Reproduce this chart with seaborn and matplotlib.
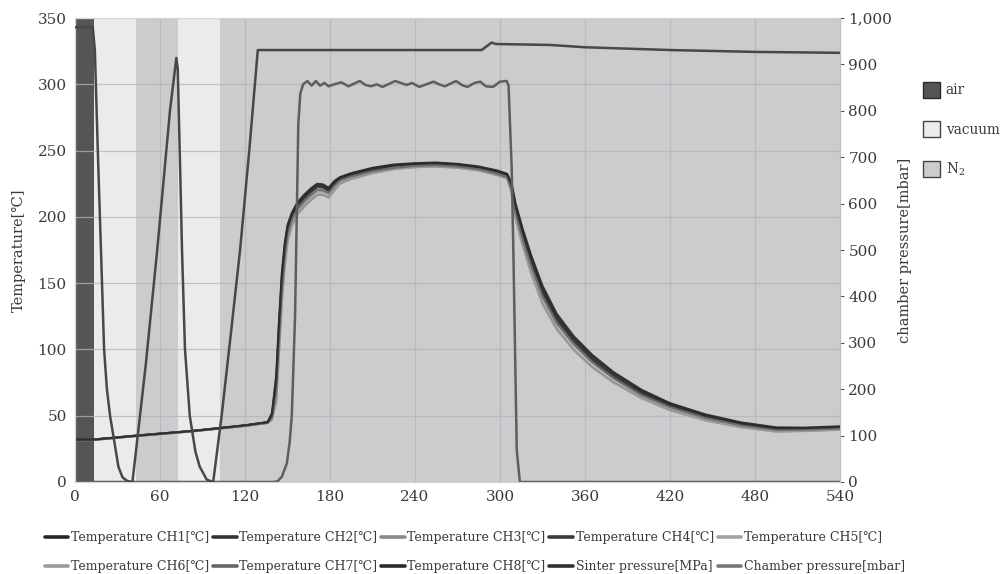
import numpy as np
import pandas as pd
import matplotlib
matplotlib.use("Agg")
import matplotlib.pyplot as plt
from matplotlib.patches import Patch
from matplotlib.lines import Line2D
from matplotlib.ticker import FuncFormatter
import seaborn as sns

# ---------------- data ----------------
# gas atmosphere bands (minutes)
band_start = [0, 13.5, 43, 72.5, 102]
band_end = [13.5, 43, 72.5, 102, 540]
band_gas = ["air", "vacuum", "N2", "vacuum", "N2"]

# temperature channels (°C) sampled at common times (min)
t_temp = [0, 12, 43, 84, 120, 136, 139, 142, 144, 146, 148, 150, 153, 157, 162, 167, 171, 175, 179, 183,
          187, 195, 210, 225, 240, 255, 270, 285, 298, 305, 308, 311, 316, 322, 330, 340, 352, 365, 380, 400,
          420, 445, 470, 495, 515, 540]
temp_ch1 = [32.0, 32.0, 35.0, 38.7, 42.8, 45.2, 52, 80, 122, 158, 180, 194, 203, 211, 217, 222, 225, 224.5, 222, 227,
            230, 233, 237, 239.5, 240.5, 241, 240, 238, 235, 232.5, 226, 210, 191, 171, 148, 127, 110, 96, 83, 69.5,
            59.5, 51, 45, 41.2, 41, 42]
temp_ch2 = [31.9, 31.9, 34.9, 38.6, 42.6, 45.0, 50, 74, 115, 151, 175, 190, 201, 209, 215, 220, 223, 222.5, 220, 225,
            229, 232, 236, 238.5, 239.5, 240, 239, 237, 234, 231.5, 223, 206, 187, 167, 144, 123.5, 107, 93, 80.5, 67.5,
            58, 49.5, 43.5, 40, 40.2, 41]
temp_ch3 = [31.6, 31.6, 34.6, 38.3, 42.3, 44.5, 47, 60, 97, 135, 162, 181, 193, 202, 208, 213, 216.5, 216.5, 214.5, 220,
            225, 228.5, 233, 236, 237.5, 238, 237, 235, 231.5, 229, 219, 199, 179, 158, 135, 116, 100, 87, 75.5, 63.5,
            54.5, 46.8, 41.5, 38, 38.6, 39.5]
temp_ch4 = [31.8, 31.8, 34.8, 38.5, 42.5, 44.8, 49, 71, 112, 149, 173, 189, 200, 208, 214, 219, 222.5, 222, 219.5, 225,
            228.5, 231.5, 235.5, 238, 239.5, 240, 239, 237, 233.5, 231, 222.5, 205, 185, 165, 142, 122, 106, 92, 79.5, 66.5,
            57.5, 49, 43.5, 39.8, 40, 40.8]
temp_ch5 = [31.7, 31.7, 34.7, 38.4, 42.4, 44.6, 48, 65, 104, 142, 168, 185, 197, 205, 211, 216, 219, 219, 217, 222.5,
            226.5, 230, 234, 237, 238.5, 239, 238, 236, 232.5, 230, 221, 202, 182, 162, 139, 119.5, 103.5, 90, 78, 65,
            56, 48, 42.5, 39, 39.3, 40]
temp_ch6 = [31.6, 31.6, 34.6, 38.3, 42.3, 44.5, 47.5, 62, 100, 138, 164, 183, 195, 203, 209, 214, 217, 217, 215, 220.5,
            225.5, 229, 233, 236, 237.5, 238, 237, 235, 231.5, 229, 218.5, 198, 178, 157, 134, 115, 99.5, 86.5, 75, 63,
            54, 46.3, 41.2, 38, 38.4, 39.3]
temp_ch7 = [31.7, 31.7, 34.7, 38.4, 42.4, 44.7, 48.5, 68, 107, 145, 170, 187, 198, 206, 212, 217, 220.5, 220, 218, 223.5,
            227.5, 230.5, 234.5, 237, 238.5, 239, 238, 236, 232.5, 230, 221.5, 203, 183, 163, 140, 120, 104, 90.5, 78.5, 65.5,
            56.5, 48.3, 42.8, 39.3, 39.5, 40.3]
temp_ch8 = [31.9, 31.9, 34.9, 38.6, 42.7, 45.1, 51, 77, 119, 155, 178, 192, 202, 210, 216, 221, 224, 223.5, 221, 226,
            229.5, 232.5, 236.5, 239, 240, 240.5, 239.5, 237.5, 234.5, 232, 224.5, 208, 189, 169, 146, 125, 108.5, 94.5, 82, 68.5,
            58.8, 50.3, 44.3, 40.6, 40.6, 41.6]

# sinter pressure (drawn on left scale)
t_sinter = [0, 140, 143, 146, 149.5, 151.5, 153, 155.3, 156.5, 157.6, 159, 161,
            164, 167, 170, 173, 176, 179, 183, 188, 193, 197, 201, 205, 209, 213, 217, 221, 226, 230, 234,
            238, 243, 248, 253, 257, 261, 265, 269, 273, 277, 282, 286, 290, 295, 300, 304.7,
            306, 308.2, 309.4, 310.6, 311.8, 314, 540]
sinter_p = [0, 0, 0.5, 4, 14, 30, 50, 125, 200, 270, 293, 300,
            302.5, 299, 302.5, 299, 301, 298.5, 300, 301.5, 298.5, 300.5, 302.5, 299.5, 298.5, 300, 298, 300, 302.5, 301, 299.5,
            301, 298, 300, 302, 300, 298.5, 300.5, 302.5, 299.5, 298, 301, 302, 298.5, 298, 302, 302.5,
            299, 238, 175, 100, 24, 0, 0]

# chamber pressure (mbar, right axis)
t_chamber = [0, 12.5, 14, 16, 18.3, 20.5, 22.5, 24.7, 28.2, 30.6, 33.5, 37, 40.5,
             45, 50, 58, 67, 71.5, 72.5, 74, 75.5, 77.6, 81, 85, 88, 93, 97.5,
             103.5, 110, 116.5, 123, 129, 200, 287, 291, 294, 297, 335, 360, 420, 480, 540]
chamber_p = [980, 980, 930, 720, 500, 286, 200, 143, 78, 33, 10, 2, 0,
             120, 255, 500, 800, 914, 890, 700, 500, 286, 142, 65, 33, 5, 0,
             143, 320, 500, 715, 931, 931, 931, 940, 947, 944, 942, 937, 931, 927, 925]

temp_labels = [f"Temperature CH{i}[℃]" for i in range(1, 9)]
temp_series = [temp_ch1, temp_ch2, temp_ch3, temp_ch4, temp_ch5, temp_ch6, temp_ch7, temp_ch8]
temp_colors = ["#262626", "#333333", "#8a8a8a", "#3a3a3a", "#a2a2a2", "#9a9a9a", "#666666", "#2a2a2a"]
sinter_label = "Sinter pressure[MPa]"
chamber_label = "Chamber pressure[mbar]"

# ---------------- style ----------------
sns.set_style("white")
plt.rcParams["font.family"] = ["DejaVu Serif", "Noto Sans CJK JP", "DejaVu Sans"]
plt.rcParams["axes.unicode_minus"] = False

band_colors = {"air": "#555557", "vacuum": "#ebebeb", "N2": "#cbccce"}
text_color = "#3a3a3a"

fig = plt.figure(figsize=(10.06, 5.74), dpi=100)
ax = fig.add_axes([0.0746, 0.1603, 0.7604, 0.8083])
ax2 = ax.twinx()

for s, e, g in zip(band_start, band_end, band_gas):
    ax.axvspan(s, e, color=band_colors[g], zorder=0.5, lw=0)

ax.set_axisbelow("line")
ax.grid(True, color="#b4b5b8", lw=0.9, alpha=0.75)

for vals, lab, col in zip(temp_series, temp_labels, temp_colors):
    sns.lineplot(x=t_temp, y=vals, ax=ax, color=col, lw=1.5, label=lab, legend=False, zorder=3, alpha=0.9)

sns.lineplot(x=t_sinter, y=sinter_p, ax=ax, color="#5e5e5e", lw=1.8, label=sinter_label, legend=False, zorder=3)
sns.lineplot(x=t_chamber, y=chamber_p, ax=ax2, color="#484848", lw=1.8, label=chamber_label, legend=False, zorder=3)

ax.set_xlim(0, 540)
ax.set_ylim(0, 350)
ax2.set_ylim(0, 1000)
ax.set_xticks(np.arange(0, 541, 60))
ax.set_yticks(np.arange(0, 351, 50))
ax2.set_yticks(np.arange(0, 1001, 100))
ax2.yaxis.set_major_formatter(FuncFormatter(lambda v, p: f"{int(v):,}"))

ax.tick_params(axis="both", length=0, labelsize=11, colors=text_color, pad=6)
ax2.tick_params(axis="y", length=3, width=0.8, color="#555555", labelsize=11, labelcolor=text_color, pad=3)
ax2.grid(False)

for sp in list(ax.spines.values()) + list(ax2.spines.values()):
    sp.set_color("#d6d6d6")
    sp.set_linewidth(0.8)
ax2.spines["right"].set_color("#bdbdbd")

ax.set_ylabel("Temperature[℃]", fontsize=10.5, color=text_color, labelpad=8)
ax2.set_ylabel("chamber pressure[mbar]", fontsize=10.5, color=text_color, labelpad=4)
ax.set_xlabel("")

# bottom legend (row-major order for 5 columns)
handles = [Line2D([], [], color=c, lw=2.6) for c in temp_colors] + \
          [Line2D([], [], color="#303030", lw=2.6), Line2D([], [], color="#777777", lw=2.6)]
labels = temp_labels + [sinter_label, chamber_label]
order = [0, 5, 1, 6, 2, 7, 3, 8, 4, 9]
fig.legend([handles[i] for i in order], [labels[i] for i in order], ncol=5, loc="center",
           bbox_to_anchor=(0.472, 0.038), frameon=False, fontsize=9, handlelength=1.9,
           handletextpad=0.2, columnspacing=0.3, labelspacing=1.25, labelcolor=text_color)

# atmosphere legend
gas_labels = ["air", "vacuum", "$\\mathregular{N_2}$"]
gas_handles = [Patch(facecolor=band_colors["air"], edgecolor="#2a2a2a", lw=1.0),
               Patch(facecolor=band_colors["vacuum"], edgecolor="#444444", lw=1.0),
               Patch(facecolor=band_colors["N2"], edgecolor="#444444", lw=1.0)]
fig.legend(gas_handles, gas_labels, loc="upper left", bbox_to_anchor=(0.905, 0.878), frameon=False,
           fontsize=9.8, handlelength=1.25, handleheight=1.35, handletextpad=0.45, labelspacing=1.75,
           labelcolor=text_color)

fig.savefig("out.png", dpi=100)
